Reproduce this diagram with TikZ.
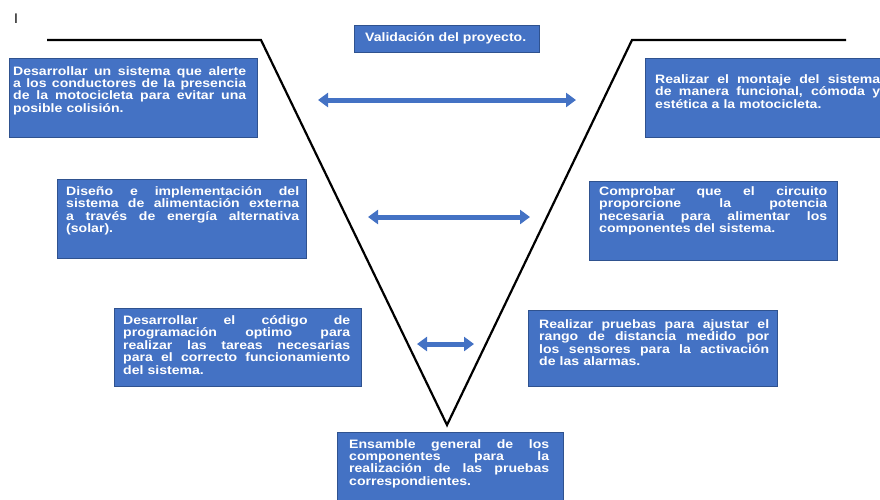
\documentclass[tikz,border=0pt]{standalone}
\usepackage{fontspec}
\setmainfont{Liberation Sans}
\newfontfamily\boxfont[FakeStretch=1.153]{Liberation Sans}
\usetikzlibrary{arrows.meta}
\definecolor{boxblue}{HTML}{4472C4}
\definecolor{boxedge}{HTML}{2F528F}
\newcommand\jline[2]{\leavevmode\hbox to #1{\spaceskip=\fontdimen2\font plus 1fil\relax #2}\\}
\begin{document}
\begin{tikzpicture}[x=1pt,y=-1pt,
  bluebox/.style={draw=boxedge, fill=boxblue, line width=0.8pt, inner sep=0pt, anchor=north west},
  boxtext/.style={text=white, font=\boxfont\bfseries\fontsize{12.2}{12.4}\selectfont, align=left, inner sep=0pt, anchor=base west},
  vline/.style={line width=2.2pt, line join=miter, draw=black},
  dblarrow/.style={line width=5pt, draw=boxblue, {Triangle[width=14pt,length=10pt]}-{Triangle[width=14pt,length=10pt]}}
]
\useasboundingbox (0,0) rectangle (880,499);

% stray mark
\node[font=\fontsize{14}{14}\selectfont, inner sep=0pt, anchor=base west] (mark) at (14,23) {I};

% V outline
\coordinate (v1) at (47,40);
\coordinate (v2) at (261,40);
\coordinate (v3) at (447,425);
\coordinate (v4) at (632,40);
\coordinate (v5) at (846,40);
\draw[vline] (v1) -- (v2) -- (v3) -- (v4) -- (v5);

% boxes
\node[bluebox, minimum width=248pt, minimum height=79pt] (b1) at (9,58) {};
\node[bluebox, minimum width=185pt, minimum height=27pt] (b2) at (354,25) {};
\node[bluebox, minimum width=250pt, minimum height=79pt] (b3) at (645,58) {};
\node[bluebox, minimum width=249pt, minimum height=79pt] (b4) at (57,179) {};
\node[bluebox, minimum width=248pt, minimum height=79pt] (b5) at (589,181) {};
\node[bluebox, minimum width=247pt, minimum height=78pt] (b6) at (114,308) {};
\node[bluebox, minimum width=249pt, minimum height=76pt] (b7) at (528,310) {};
\node[bluebox, minimum width=226pt, minimum height=80pt] (b8) at (337,432) {};

% texts
\node[boxtext, text width=233pt] (t1) at (13,75) {%
\jline{233pt}{Desarrollar un sistema que alerte}%
\jline{233pt}{a los conductores de la presencia}%
\jline{233pt}{de la motocicleta para evitar una}%
posible colisión.};
\node[boxtext] (t2) at (365,41) {Validación del proyecto.};
\node[boxtext, text width=225pt] (t3) at (655,83.5) {%
\jline{225pt}{Realizar el montaje del sistema}%
\jline{225pt}{de manera funcional, cómoda y}%
estética a la motocicleta.};
\node[boxtext, text width=233pt] (t4) at (66,195.5) {%
\jline{233pt}{Diseño e implementación del}%
\jline{233pt}{sistema de alimentación externa}%
\jline{233pt}{a través de energía alternativa}%
(solar).};
\node[boxtext, text width=228pt] (t5) at (599,195.5) {%
\jline{228pt}{Comprobar que el circuito}%
\jline{228pt}{proporcione la potencia}%
\jline{228pt}{necesaria para alimentar los}%
componentes del sistema.};
\node[boxtext, text width=227pt] (t6) at (123,324.5) {%
\jline{227pt}{Desarrollar el código de}%
\jline{227pt}{programación optimo para}%
\jline{227pt}{realizar las tareas necesarias}%
\jline{227pt}{para el correcto funcionamiento}%
del sistema.};
\node[boxtext, text width=230pt] (t7) at (539,328.5) {%
\jline{230pt}{Realizar pruebas para ajustar el}%
\jline{230pt}{rango de distancia medido por}%
\jline{230pt}{los sensores para la activación}%
de las alarmas.};
\node[boxtext, text width=200pt] (t8) at (349,448) {%
\jline{200pt}{Ensamble general de los}%
\jline{200pt}{componentes para la}%
\jline{200pt}{realización de las pruebas}%
correspondientes.};

% arrows
\coordinate (a1l) at (318,100);
\coordinate (a1r) at (576,100);
\coordinate (a2l) at (368,217);
\coordinate (a2r) at (530,217);
\coordinate (a3l) at (417,344);
\coordinate (a3r) at (474,344);
\draw[dblarrow] (a1l) -- (a1r);
\draw[dblarrow] (a2l) -- (a2r);
\draw[dblarrow] (a3l) -- (a3r);
\end{tikzpicture}
\end{document}
